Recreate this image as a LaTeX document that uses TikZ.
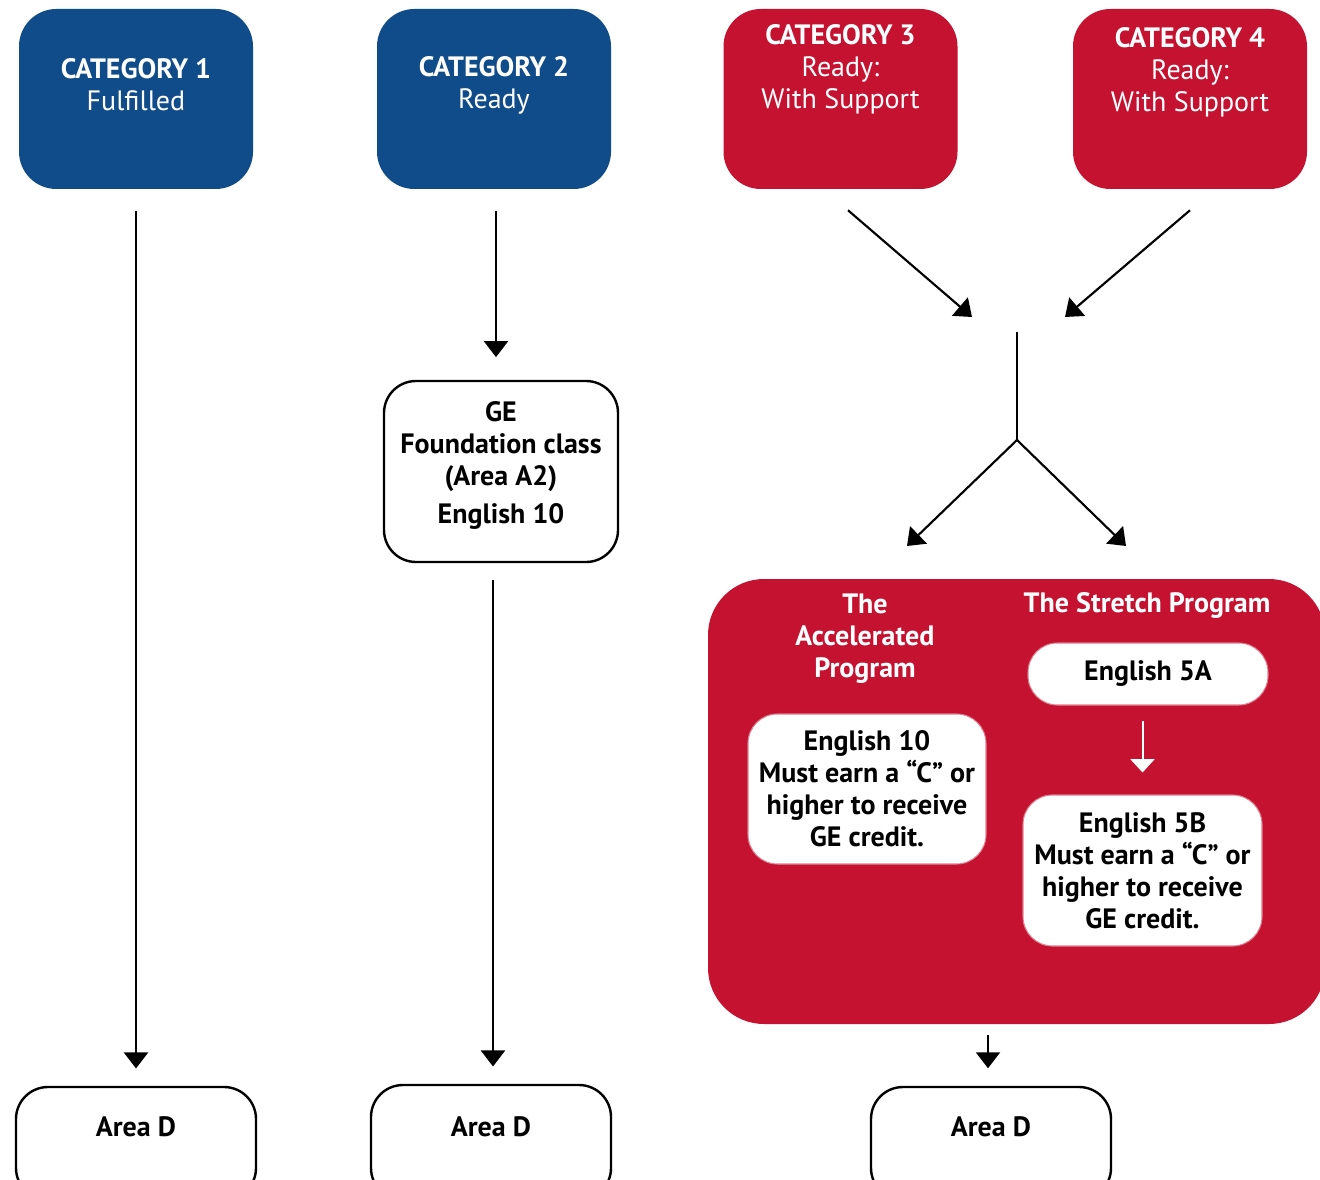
\documentclass[tikz,border=0pt]{standalone}
\usepackage{fontspec}
\setmainfont{PT Sans}
\usetikzlibrary{arrows.meta}
\definecolor{catblue}{RGB}{17,76,138}
\definecolor{catred}{RGB}{196,18,48}
\newcommand{\basefnt}{\fontsize{21}{24}\selectfont}
\begin{document}
\begin{tikzpicture}[x=0.75pt,y=-0.75pt,font=\basefnt,
  catbox/.style={rounded corners=28pt,inner sep=0pt,draw=none},
  bluebox/.style={catbox,fill=catblue,minimum width=175.5pt,minimum height=135pt},
  redbox/.style={catbox,fill=catred,minimum width=175.5pt,minimum height=135pt},
  cattext/.style={text=white,align=center,inner sep=0pt},
  outline/.style={draw=black,line width=1.8pt,fill=white,rounded corners=24pt,inner sep=0pt,align=center,font=\basefnt\bfseries},
  innerbox/.style={fill=white,draw=catred!55!white,line width=0.8pt,rounded corners=22pt,inner sep=0pt,align=center,font=\basefnt\bfseries},
  boldtext/.style={align=center,font=\basefnt\bfseries,inner sep=0pt},
  arr/.style={line width=1.6pt,-{Triangle[width=18pt,length=12pt]}},
  warr/.style={draw=white,line width=1.5pt,-{Triangle[width=18pt,length=10pt]}}]
\useasboundingbox (0,0) rectangle (1320,1180);

% category boxes
\node[bluebox] (c1) at (136,99) {};
\node[cattext] at (136,85) {\textbf{CATEGORY 1}\\Fulfilled};
\node[bluebox] (c2) at (494,99) {};
\node[cattext] at (494,85) {\textbf{CATEGORY 2}\\Ready};
\node[redbox] (c3) at (840.5,99) {};
\node[cattext] at (840.5,69) {\textbf{CATEGORY 3}\\Ready:\\With Support};
\node[redbox] (c4) at (1190,99) {};
\node[cattext] at (1190,72) {\textbf{CATEGORY 4}\\Ready:\\With Support};

% GE box
\node[outline,minimum width=175.5pt,minimum height=135.75pt] (ge) at (501,471.5) {};
\node[boldtext] at (501,465) {GE\\Foundation class\\(Area A2)\\[4.5pt]English 10};

% Area D boxes
\node[outline,minimum width=180pt,minimum height=84.75pt] (a1) at (136,1143.5) {};
\node[boldtext] at ([yshift=-30.5pt]a1.north) {Area D};
\node[outline,minimum width=180pt,minimum height=86.25pt] (a2) at (491,1142.5) {};
\node[boldtext] at ([yshift=-32pt]a2.north) {Area D};
\node[outline,minimum width=180pt,minimum height=84.75pt] (a3) at (991,1143.5) {};
\node[boldtext] at ([yshift=-30.5pt]a3.north) {Area D};

% big red program box
\node[catbox,rounded corners=42pt,fill=catred,minimum width=462.75pt,minimum height=333.75pt] (red) at (1016.5,801.5) {};
\node[cattext,font=\basefnt\bfseries] (acc) at (865,639) {The\\Accelerated\\Program};
\node[cattext,font=\basefnt\bfseries] (str) at (1147,605) {The Stretch Program};
\node[innerbox,minimum width=180pt,minimum height=46.5pt] (e5a) at (1148,674) {English 5A};
\node[innerbox,minimum width=179.25pt,minimum height=113.25pt] (e5b) at (1142.5,870.5) {English 5B\\Must earn a “C” or\\higher to receive\\GE credit.};
\node[innerbox,minimum width=178.5pt,minimum height=112.5pt] (e10) at (867,789) {English 10\\Must earn a “C” or\\higher to receive\\GE credit.};

% junction coordinates
\coordinate (m3) at (972,317);
\coordinate (m4) at (1065,317);
\coordinate (jt) at (1017,332);
\coordinate (jb) at (1017,440);
\coordinate (dl) at (907,546);
\coordinate (dr) at (1126,546);

% connectors
\draw[arr] ([yshift=-16pt]c1.south) -- ([yshift=13pt]a1.north);
\draw[arr] ([xshift=1.5pt,yshift=-16pt]c2.south) -- ([xshift=-3.75pt,yshift=17pt]ge.north);
\draw[arr] ([xshift=-6pt,yshift=-12.75pt]ge.south) -- ([xshift=1.5pt,yshift=13pt]a2.north);
\draw[arr] (c3.south) ++(7.5,21) -- (m3);
\draw[arr] (c4.south) ++(0,21) -- (m4);
\draw[line width=1.6pt] (jt) -- (jb);
\draw[arr] (jb) -- (dl);
\draw[arr] (jb) -- (dr);
\draw[warr] (e5b.north) ++(0,-73) -- ++(0,51);
\draw[arr] (a3.north |- red.south) ++(-3,11) -- ++(0,33);
\end{tikzpicture}
\end{document}
